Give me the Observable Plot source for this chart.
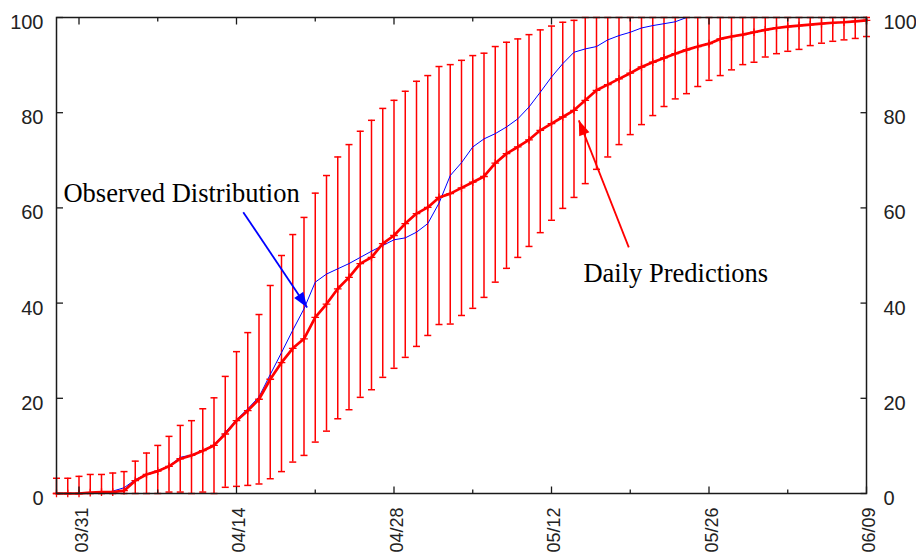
<!DOCTYPE html>
<html>
<head>
<meta charset="utf-8">
<script src="https://cdn.jsdelivr.net/npm/d3@7"></script>
<script src="https://cdn.jsdelivr.net/npm/@observablehq/plot@0.6"></script>
<style>
  html, body { margin: 0; padding: 0; background: #fff; }
  #chart svg { display: block; }
</style>
</head>
<body>
<div id="chart"></div>
<script>
// Daily cumulative percentages, one value per day from 03/29 to 06/09.
const firstDay = "2008-03-29";

const predicted = [
  0, 0, 0, 0.2, 0.3, 0.3, 0.6, 2.7, 4.0, 4.7,
  5.7, 7.3, 8.0, 9.0, 10.1, 12.5, 15.3, 17.4, 19.8, 24.0,
  27.5, 30.5, 32.5, 37.0, 39.8, 43.0, 45.4, 48.3, 49.6, 52.5,
  54.2, 56.7, 58.8, 60.1, 62.2, 63.0, 64.2, 65.4, 66.6, 69.4,
  71.4, 72.8, 74.3, 76.3, 77.7, 79.1, 80.5, 82.6, 84.7, 85.9,
  87.1, 88.3, 89.6, 90.6, 91.5, 92.4, 93.2, 93.9, 94.5, 95.5,
  96.0, 96.4, 96.9, 97.4, 97.8, 98.1, 98.3, 98.5, 98.7, 98.9,
  99.0, 99.2, 99.4
];

const upper = [
  3.2, 3.2, 3.6, 4.0, 4.0, 4.3, 4.6, 6.8, 8.5, 10.1,
  12.0, 14.3, 15.3, 17.8, 20.1, 24.6, 29.8, 33.8, 37.6, 43.7,
  50.0, 54.4, 58.0, 63.1, 66.8, 70.7, 73.3, 76.1, 78.4, 80.9,
  82.6, 84.5, 86.6, 87.8, 89.7, 90.1, 91.0, 92.0, 92.5, 93.9,
  94.8, 95.5, 96.4, 97.4, 98.2, 99.0, 99.4, 100, 100, 100,
  100, 100, 100, 100, 100, 100, 100, 100, 100, 100,
  100, 100, 100, 100, 100, 100, 100, 100, 100, 100,
  100, 100, 100
];

const lower = [
  0, 0, 0, 0, 0, 0, 0, 0, 0, 0,
  0.3, 0.3, 0, 0.3, 0, 1.3, 1.5, 1.7, 2.0, 3.1,
  4.6, 6.6, 8.0, 10.8, 13.1, 15.7, 17.6, 20.2, 21.8, 24.4,
  26.3, 28.6, 30.9, 33.2, 35.5, 35.6, 37.4, 38.9, 41.2, 44.4,
  47.3, 49.6, 51.9, 54.8, 57.4, 59.9, 62.2, 65.1, 68.1, 70.7,
  73.3, 75.4, 77.5, 79.4, 81.3, 82.9, 84.0, 85.5, 86.8, 87.8,
  89.0, 90.1, 90.6, 91.7, 92.4, 92.9, 93.3, 94.1, 94.6, 95.0,
  95.3, 95.6, 96.0
];

const observed = [
  0, 0, 0, 0, 0, 0.5, 1.2, 2.9, 4.1, 4.8,
  5.8, 7.6, 8.1, 9.0, 10.2, 12.9, 15.5, 17.8, 20.3, 25.0,
  29.6, 34.3, 38.8, 44.4, 46.1, 47.2, 48.3, 49.6, 50.9, 52.1,
  53.3, 53.7, 54.9, 56.7, 61.0, 66.8, 69.5, 72.8, 74.5, 75.6,
  77.0, 78.7, 81.2, 84.3, 87.5, 90.3, 92.7, 93.4, 93.9, 95.3,
  96.2, 96.9, 97.8, 98.3, 98.7, 99.1, 100, 100, 100, 100,
  100, 100, 100, 100, 100, 100, 100, 100, 100, 100,
  100, 100, 100
];

const yTicks = [0, 20, 40, 60, 80, 100];
const xTickLabels = ["03/31", "04/14", "04/28", "05/12", "05/26", "06/09"];

// Annotations: [day index from firstDay, percent]
const noteText = ["Observed Distribution", "Daily Predictions"];
const noteAt = [[0.62, 61.2], [46.84, 44.4]];
const arrowFrom = [[16.6, 59.1], [50.87, 51.7]];
const arrowTo = [[22.28, 39.1], [46.43, 78.4]];
const arrowColor = ["#0000ff", "#ff0000"];

// ---- derived tables ----
const t0 = new Date(firstDay + "T00:00Z");
const at = (i) => new Date(+t0 + i * 864e5);
const year = t0.getUTCFullYear();

const rows = predicted.map((p, i) => ({
  date: at(i), predicted: p, upper: upper[i], lower: lower[i], observed: observed[i]
}));

const majorTicks = xTickLabels.map((s) => {
  const [m, d] = s.split("/").map(Number);
  return new Date(Date.UTC(year, m - 1, d));
});
const minorTicks = d3.utcDay
  .range(majorTicks[0], d3.utcDay.offset(majorTicks[majorTicks.length - 1], 1), 7)
  .filter((d) => !majorTicks.some((m) => +m === +d));

const W = 916, H = 554;
const M = {top: 17, right: 50, bottom: 61, left: 56};
const xDomain = [at(0), at(predicted.length - 1)];
const yDomain = [0, 100];

const xs = Plot.scale({x: {type: "utc", domain: xDomain, range: [M.left, W - M.right]}});
const ys = Plot.scale({y: {domain: yDomain, range: [H - M.bottom, M.top]}});

const notes = noteText.map((text, i) => ({text, date: at(noteAt[i][0]), value: noteAt[i][1]}));
const arrows = arrowFrom.map((f, i) => {
  const a = {x1: at(f[0]), y1: f[1], x2: at(arrowTo[i][0]), y2: arrowTo[i][1], color: arrowColor[i]};
  const dx = xs.apply(a.x2) - xs.apply(a.x1);
  const dy = ys.apply(a.y2) - ys.apply(a.y1);
  a.angle = Math.atan2(dx, -dy) * 180 / Math.PI;
  return a;
});

// ---- custom symbols ----
const seg = (x0, y0, x1, y1) => ({draw(ctx) { ctx.moveTo(x0, y0); ctx.lineTo(x1, y1); }});
const capSymbol = seg(-3.5, 0, 3.5, 0);
const headSymbol = {draw(ctx) { ctx.moveTo(0, 0); ctx.lineTo(-5.5, 15); ctx.lineTo(5.5, 15); ctx.closePath(); }};

const ink = "#1a1a1a";
const red = "#ff0000";

const chart = Plot.plot({
  width: W,
  height: H,
  marginTop: M.top,
  marginRight: M.right,
  marginBottom: M.bottom,
  marginLeft: M.left,
  x: {type: "utc", domain: xDomain},
  y: {domain: yDomain},
  style: {fontFamily: "'Liberation Sans', Arial, sans-serif", color: "#222", background: "#fff", overflow: "hidden"},
  marks: [
    // error bars
    Plot.ruleX(rows, {x: "date", y1: "lower", y2: "upper", stroke: red, strokeWidth: 1.5}),
    Plot.dot(rows, {x: "date", y: "upper", symbol: capSymbol, r: 3, fill: "none", stroke: red, strokeWidth: 1.5}),
    Plot.dot(rows, {x: "date", y: "lower", symbol: capSymbol, r: 3, fill: "none", stroke: red, strokeWidth: 1.5}),
    // observed distribution
    Plot.line(rows, {x: "date", y: "observed", stroke: "#0000ff", strokeWidth: 1}),
    // daily predictions
    Plot.line(rows, {x: "date", y: "predicted", stroke: red, strokeWidth: 2.7}),
    Plot.dot(rows, {x: "date", y: "predicted", symbol: "plus", r: 2.6, fill: "none", stroke: red, strokeWidth: 1.3}),
    // annotations
    Plot.link(arrows, {x1: "x1", y1: "y1", x2: "x2", y2: "y2", stroke: "color", strokeWidth: 1.8}),
    Plot.dot(arrows, {x: "x2", y: "y2", symbol: headSymbol, r: 5, rotate: "angle", fill: "color", stroke: "none"}),
    Plot.text(notes, {x: "date", y: "value", text: "text", textAnchor: "start", lineAnchor: "bottom",
      fontFamily: "'Liberation Serif', 'Times New Roman', serif", fontSize: 26.5, fill: "#000"}),
    // frame and inward ticks
    Plot.frame({stroke: ink, strokeWidth: 1.5}),
    Plot.dot(yTicks, {y: (d) => d, frameAnchor: "left", symbol: seg(0, 0, 6.5, 0), fill: "none", stroke: ink, strokeWidth: 1.3}),
    Plot.dot(yTicks, {y: (d) => d, frameAnchor: "right", symbol: seg(0, 0, -6, 0), fill: "none", stroke: ink, strokeWidth: 1.3}),
    Plot.dot(majorTicks, {x: (d) => d, frameAnchor: "bottom", symbol: seg(0, 0, 0, -7), fill: "none", stroke: ink, strokeWidth: 1.3}),
    Plot.dot(minorTicks, {x: (d) => d, frameAnchor: "bottom", symbol: seg(0, 0, 0, -4), fill: "none", stroke: ink, strokeWidth: 1.3}),
    Plot.dot(majorTicks, {x: (d) => d, frameAnchor: "top", symbol: seg(0, 0, 0, 7), fill: "none", stroke: ink, strokeWidth: 1.3}),
    Plot.dot(minorTicks, {x: (d) => d, frameAnchor: "top", symbol: seg(0, 0, 0, 4), fill: "none", stroke: ink, strokeWidth: 1.3}),
    // tick labels
    Plot.axisY(yTicks, {anchor: "left", tickSize: 0, tickPadding: 13, fontSize: 20, dy: 5, label: null}),
    Plot.axisY(yTicks, {anchor: "right", tickSize: 0, tickPadding: 17, fontSize: 20, dy: 5, label: null}),
    Plot.axisX(majorTicks, {anchor: "bottom", tickSize: 0, tickPadding: 14, tickRotate: -90, dx: 3,
      fontSize: 18, label: null,
      tickFormat: (d) => xTickLabels[majorTicks.findIndex((m) => +m === +d)]})
  ]
});

document.getElementById("chart").appendChild(chart);
</script>
</body>
</html>
